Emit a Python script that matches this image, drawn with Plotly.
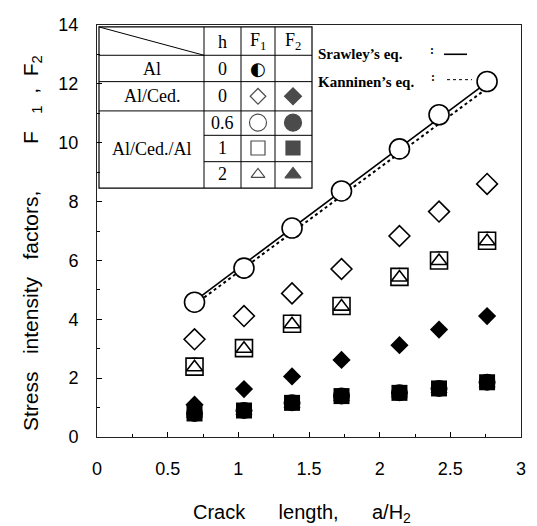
import plotly.graph_objects as go

# ---- data ----
crack_x = [0.69, 1.04, 1.38, 1.73, 2.14, 2.42, 2.76]

al_f1 = [4.58, 5.74, 7.10, 8.36, 9.79, 10.95, 12.08]          # big open circles
alced_f1 = [3.32, 4.11, 4.88, 5.71, 6.83, 7.66, 8.60]         # open diamonds
alced_f2 = [1.10, 1.63, 2.06, 2.62, 3.12, 3.65, 4.11]         # filled diamonds
h06_f1 = [2.42, 3.05, 3.88, 4.48, 5.47, 6.03, 6.70]           # open circles
h1_f1 = [2.39, 3.02, 3.85, 4.45, 5.44, 6.00, 6.67]            # open squares
h2_f1 = [2.37, 3.00, 3.83, 4.43, 5.42, 5.98, 6.65]            # open triangles
h06_f2 = [0.80, 0.90, 1.16, 1.39, 1.50, 1.65, 1.86]           # filled circles
h1_f2 = [0.80, 0.90, 1.16, 1.39, 1.50, 1.65, 1.86]            # filled squares
h2_f2 = [0.78, 0.88, 1.12, 1.36, 1.47, 1.62, 1.82]            # filled triangles

srawley_x = [0.69, 2.76]
srawley_y = [4.62, 12.05]
kanninen_x = [0.69, 2.76]
kanninen_y = [4.50, 11.85]

x_ticks = [0, 0.5, 1, 1.5, 2, 2.5, 3]
x_tick_labels = ["0", "0.5", "1", "1.5", "2", "2.5", "3"]
y_ticks = [0, 2, 4, 6, 8, 10, 12, 14]

# table contents
table_rows = ["Al", "Al/Ced.", "Al/Ced./Al"]
table_h = ["0", "0", "0.6", "1", "2"]

fig = go.Figure()

fig.add_trace(go.Scatter(x=srawley_x, y=srawley_y, mode="lines",
                         line=dict(color="black", width=1.6), showlegend=False))
fig.add_trace(go.Scatter(x=kanninen_x, y=kanninen_y, mode="lines",
                         line=dict(color="black", width=2, dash="dot"), showlegend=False))

def mk(y, symbol, size, filled):
    fig.add_trace(go.Scatter(
        x=crack_x, y=y, mode="markers", showlegend=False,
        marker=dict(symbol=symbol, size=size,
                    color="black" if filled else "white",
                    line=dict(color="black", width=1.6 if not filled else 0))))

mk(h06_f1, "circle", 15, False)
mk(h1_f1, "square", 17, False)
mk(h2_f1, "triangle-up", 14, False)
mk(alced_f1, "diamond", 16, False)
mk(h06_f2, "circle", 17, True)
mk(h1_f2, "square", 16, True)
mk(h2_f2, "triangle-up", 15, True)
mk(alced_f2, "diamond", 14, True)
mk(al_f1, "circle", 20, False)

# ---- table overlay in pixel-like coordinates (reference pixels) ----
L, R, T, B = 97, 521, 15, 437
OFF = 8  # page body margin
W, H = 537 - OFF, 526 - OFF
shapes = []
def line(x0, y0, x1, y1, w=1):
    shapes.append(dict(type="line", xref="x2", yref="y2", x0=x0, y0=y0, x1=x1, y1=y1,
                       line=dict(color="black", width=w)))

tx0, tx1, ty0, ty1 = 99, 312, 17, 182
shapes.append(dict(type="rect", xref="x2", yref="y2", x0=tx0, y0=ty0, x1=tx1, y1=ty1,
                   fillcolor="white", line=dict(color="black", width=1.2), layer="below"))
for yy in [46, 73, 103]:
    line(tx0, yy, tx1, yy)
for yy in [128, 155]:
    line(204, yy, tx1, yy)
for xx in [204, 241, 275]:
    line(xx, ty0, xx, ty1)
line(tx0, ty0, 204, 46)
# legend lines
line(444, 45, 467, 45, 1.6)
shapes.append(dict(type="line", xref="x2", yref="y2", x0=447, y0=71, x1=472, y1=71,
                   line=dict(color="black", width=1, dash="dot")))

annotations = []
def txt(x, y, s, size=18, family="Liberation Serif, Times New Roman, serif", bold=False,
        xanchor="center", angle=0):
    annotations.append(dict(xref="x2", yref="y2", x=x, y=y, text=("<b>%s</b>" % s) if bold else s,
                            showarrow=False, xanchor=xanchor, yanchor="middle", textangle=angle,
                            font=dict(family=family, size=size, color="black")))

txt(222, 32, "h")
txt(258, 32, "F<sub>1</sub>")
txt(293, 32, "F<sub>2</sub>")
txt(152, 60, table_rows[0])
txt(152, 88, table_rows[1])
txt(152, 142, table_rows[2])
for yy, hv in zip([60, 88, 115, 141, 168], table_h):
    txt(222, yy, hv)
txt(258, 60, "◐", size=18, family="DejaVu Sans")

txt(316, 45, "Srawley’s eq.", size=15, bold=True, xanchor="left")
txt(316, 73, "Kanninen’s eq.", size=15, bold=True, xanchor="left")
txt(432, 41, ":", size=12, bold=True, xanchor="center")
txt(433, 68, ":", size=12, bold=True, xanchor="center")

sym_x = [258, 293, 258, 293, 258, 293, 258, 293]
sym_y = [88, 88, 115, 115, 141, 141, 168, 168]
sym_s = ["diamond-open", "diamond", "circle-open", "circle", "square-open", "square",
         "triangle-up-open", "triangle-up"]
sym_z = [12, 13, 17, 17, 14, 14, 12, 14]
fig.add_trace(go.Scatter(x=sym_x, y=sym_y, xaxis="x2", yaxis="y2", mode="markers",
                         showlegend=False, hoverinfo="skip",
                         marker=dict(symbol=sym_s, size=sym_z, color="black",
                                     line=dict(color="black", width=1.2))))

# axis titles (paper coordinates, positioned from reference pixels)
nb = "\u00a0"
sans = "Liberation Sans, Arial, sans-serif"
def ptxt(px, py, s, size, angle=0, xanchor="center", yanchor="middle"):
    annotations.append(dict(xref="paper", yref="paper",
                            x=(px - L) / (R - L), y=(B - py) / (B - T),
                            text=s, showarrow=False, xanchor=xanchor, yanchor=yanchor,
                            textangle=angle, font=dict(family=sans, size=size, color="black")))

ptxt(191, 515, "Crack" + nb * 6 + "length," + nb * 6 + "a/H<sub>2</sub>", 20, xanchor="left")
ptxt(32, 433, "Stress" + nb * 3 + "intensity" + nb * 3 + "factors," + nb * 8 +
     "F" + nb * 3 + "<sub>1</sub>" + nb * 2 + "," + nb * 2 + "F<sub>2</sub>", 21, angle=-90,
     yanchor="bottom")

fig.update_layout(
    width=W, height=H,
    margin=dict(l=L - OFF, r=W - (R - OFF), t=T - OFF, b=H - (B - OFF)),
    plot_bgcolor="white", paper_bgcolor="white",
    shapes=shapes, annotations=annotations,
    font=dict(family=sans, size=18, color="black"),
    xaxis=dict(range=[0, 3], tickvals=x_ticks, ticktext=x_tick_labels,
               ticks="inside", ticklen=5, tickcolor="black", showgrid=False, zeroline=False,
               showline=True, linecolor="#222", linewidth=1, mirror=True,
               minor=dict(dtick=0.25, ticks="inside", ticklen=3, tickcolor="black"),
               ticklabelstandoff=15, ticklabeloverflow="allow"),
    yaxis=dict(range=[0, 14], tickvals=y_ticks,
               ticks="inside", ticklen=5, tickcolor="black", showgrid=False, zeroline=False,
               showline=True, linecolor="#222", linewidth=1, mirror=True,
               minor=dict(dtick=1, ticks="inside", ticklen=3, tickcolor="black"),
               ticklabelstandoff=14, ticklabeloverflow="allow"),
    xaxis2=dict(range=[L, R], overlaying="x", visible=False, fixedrange=True),
    yaxis2=dict(range=[B, T], overlaying="y", visible=False, fixedrange=True),
)

fig.write_html("out.html")
